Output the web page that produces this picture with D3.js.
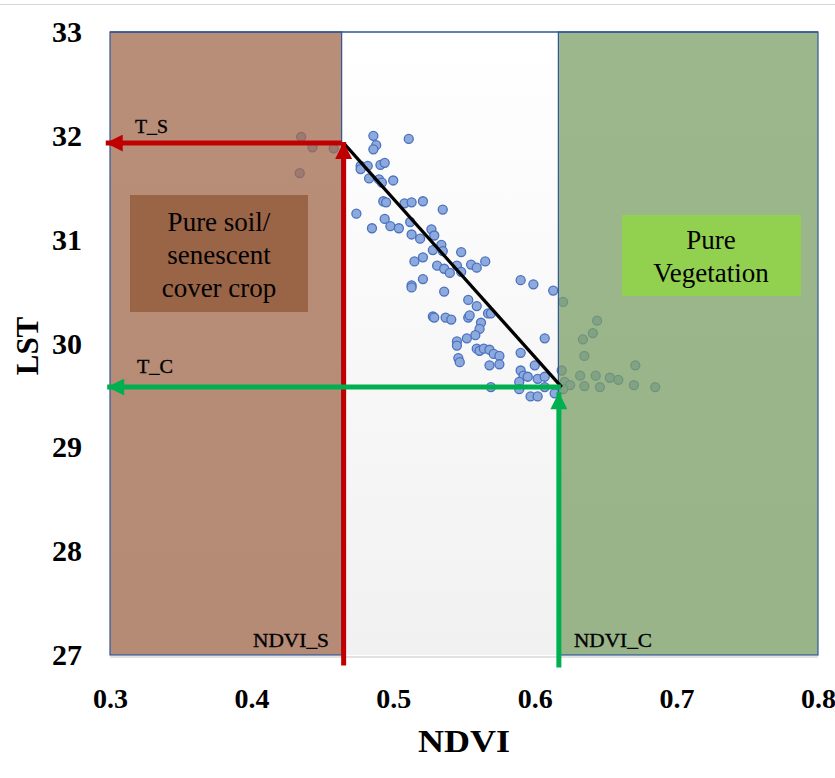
<!DOCTYPE html>
<html>
<head>
<meta charset="utf-8">
<script src="https://cdn.jsdelivr.net/npm/d3@7"></script>
<style>
  body { margin: 0; background: #fff; }
  svg { display: block; }
  .tick text { font-family: "Liberation Serif", serif; font-weight: bold; fill: #000; }
</style>
</head>
<body>
<div id="svg-container"></div>
<script>
// ---------------- data ----------------
const xTicks = [0.3, 0.4, 0.5, 0.6, 0.7, 0.8];
const yTicks = [27, 28, 29, 30, 31, 32, 33];

// end members
const ndviS = 0.465;
const ndviC = 0.617;
const tS = 31.93;
const tC = 29.58;

// [ndvi, lst]
const points = [
  [0.435, 31.99], [0.443, 31.89], [0.458, 31.88], [0.434, 31.64],
  [0.486, 32.00], [0.511, 31.97], [0.488, 31.91], [0.486, 31.87],
  [0.477, 31.71], [0.482, 31.71], [0.477, 31.68], [0.491, 31.72],
  [0.494, 31.74], [0.483, 31.59], [0.490, 31.58], [0.492, 31.55],
  [0.500, 31.57], [0.493, 31.37], [0.495, 31.36], [0.508, 31.35],
  [0.513, 31.36], [0.521, 31.37], [0.535, 31.29], [0.474, 31.25],
  [0.494, 31.20], [0.498, 31.13], [0.485, 31.11], [0.504, 31.11],
  [0.512, 31.17], [0.527, 31.10], [0.529, 31.04], [0.513, 31.05],
  [0.519, 31.01], [0.534, 30.95], [0.528, 30.90], [0.535, 30.89],
  [0.548, 30.88], [0.521, 30.83], [0.515, 30.79], [0.531, 30.75],
  [0.536, 30.72], [0.540, 30.68], [0.545, 30.75], [0.548, 30.69],
  [0.555, 30.76], [0.559, 30.73], [0.565, 30.79], [0.521, 30.62],
  [0.513, 30.56], [0.513, 30.54], [0.536, 30.50], [0.590, 30.61],
  [0.599, 30.57], [0.613, 30.51], [0.553, 30.42], [0.559, 30.36],
  [0.567, 30.29], [0.569, 30.29], [0.528, 30.26], [0.529, 30.25],
  [0.537, 30.25], [0.541, 30.23], [0.553, 30.25], [0.554, 30.27],
  [0.562, 30.20], [0.561, 30.14], [0.558, 30.08], [0.552, 30.05],
  [0.545, 30.02], [0.545, 29.98], [0.559, 29.95], [0.561, 29.93],
  [0.564, 29.95], [0.568, 29.94], [0.571, 29.90], [0.575, 29.88],
  [0.546, 29.86], [0.547, 29.82], [0.568, 29.79], [0.575, 29.80],
  [0.590, 29.91], [0.607, 30.05], [0.590, 29.74], [0.600, 29.79],
  [0.592, 29.69], [0.595, 29.68], [0.602, 29.66], [0.607, 29.68],
  [0.589, 29.63], [0.589, 29.56], [0.569, 29.58], [0.607, 29.58],
  [0.597, 29.49], [0.602, 29.49], [0.614, 29.52],
  [0.620, 30.40], [0.644, 30.22], [0.641, 30.10], [0.634, 30.04],
  [0.635, 29.88], [0.619, 29.74], [0.671, 29.79], [0.632, 29.69],
  [0.643, 29.69], [0.653, 29.67], [0.659, 29.65], [0.621, 29.63],
  [0.625, 29.60], [0.635, 29.59], [0.646, 29.58], [0.670, 29.60],
  [0.685, 29.58], [0.620, 29.56]
];

// ---------------- init ----------------
const width = 835;
const height = 778;
const margin = { top: 32, right: 17, bottom: 123, left: 110 };

const svg = d3.select("#svg-container").append("svg")
  .attr("width", width).attr("height", height);

const xScale = d3.scaleLinear().domain([0.3, 0.8]).range([margin.left, width - margin.right]);
const yScale = d3.scaleLinear().domain([27, 33]).range([height - margin.bottom, margin.top]);

const x0 = xScale(0.3), x1 = xScale(0.8), yTop = yScale(33), yBot = yScale(27);

// faint rule at the very top
svg.append("line")
  .attr("x1", 0).attr("x2", width).attr("y1", 4.5).attr("y2", 4.5)
  .attr("stroke", "#d6d6d6").attr("stroke-width", 1);

const defs = svg.append("defs");
const grad = defs.append("linearGradient").attr("id", "bg").attr("x1", 0).attr("x2", 0).attr("y1", 0).attr("y2", 1);
grad.append("stop").attr("offset", "0%").attr("stop-color", "#ffffff");
grad.append("stop").attr("offset", "100%").attr("stop-color", "#f1f1f1");

function arrowMarker(id, color) {
  defs.append("marker")
    .attr("id", id)
    .attr("markerUnits", "userSpaceOnUse")
    .attr("viewBox", "0 0 10 10")
    .attr("refX", 10).attr("refY", 5)
    .attr("markerWidth", 18).attr("markerHeight", 17)
    .attr("orient", "auto")
    .append("path")
    .attr("d", "M0,0 L10,5 L0,10 Z")
    .attr("fill", color);
}
arrowMarker("arrow-red", "#c00000");
arrowMarker("arrow-green", "#00b050");

// plot background
svg.append("rect")
  .attr("x", x0).attr("y", yTop)
  .attr("width", x1 - x0).attr("height", yBot - yTop)
  .attr("fill", "url(#bg)");

// points
svg.append("g")
  .selectAll("circle")
  .data(points)
  .enter()
  .append("circle")
  .attr("cx", (d) => xScale(d[0]))
  .attr("cy", (d) => yScale(d[1]))
  .attr("r", 4.5)
  .attr("fill", "#8eaadc")
  .attr("stroke", "#4a72c0")
  .attr("stroke-width", 1.3);

// zones (semi transparent so points show through)
svg.append("rect")
  .attr("x", x0).attr("y", yTop)
  .attr("width", xScale(ndviS) - 2 - x0).attr("height", yBot - yTop)
  .attr("fill", "#a26b4d").attr("fill-opacity", 0.76)
  .attr("stroke", "#2f5597").attr("stroke-width", 1.2);

svg.append("rect")
  .attr("x", xScale(ndviC) - 0.5).attr("y", yTop)
  .attr("width", x1 - xScale(ndviC) + 0.5).attr("height", yBot - yTop)
  .attr("fill", "#7c9f65").attr("fill-opacity", 0.75)
  .attr("stroke", "#2f5597").attr("stroke-width", 1.2);

// top border of the middle band
svg.append("line")
  .attr("x1", x0).attr("x2", x1).attr("y1", yTop).attr("y2", yTop)
  .attr("stroke", "#2f5597").attr("stroke-width", 1.5);
svg.append("line")
  .attr("x1", x0).attr("x2", x1).attr("y1", yBot + 2).attr("y2", yBot + 2)
  .attr("stroke", "#d9d9d9").attr("stroke-width", 1.5);

// zone labels
svg.append("rect")
  .attr("x", 130).attr("y", 195).attr("width", 178).attr("height", 117)
  .attr("fill", "#9a6446");
const soil = svg.append("text")
  .attr("x", 219).attr("y", 231)
  .attr("text-anchor", "middle")
  .style("font-family", "'Liberation Serif', serif")
  .style("font-size", "27px")
  .attr("fill", "#000");
["Pure soil/", "senescent", "cover crop"].forEach((t, i) => {
  soil.append("tspan").attr("x", 219).attr("dy", i === 0 ? 0 : 33).text(t);
});

svg.append("rect")
  .attr("x", 622).attr("y", 215).attr("width", 179).attr("height", 81)
  .attr("fill", "#92d050");
const veg = svg.append("text")
  .attr("x", 711).attr("y", 249)
  .attr("text-anchor", "middle")
  .style("font-family", "'Liberation Serif', serif")
  .style("font-size", "27px")
  .attr("fill", "#000");
["Pure", "Vegetation"].forEach((t, i) => {
  veg.append("tspan").attr("x", 711).attr("dy", i === 0 ? 0 : 33).text(t);
});

// black edge line
svg.append("line")
  .attr("x1", xScale(ndviS)).attr("y1", yScale(tS))
  .attr("x2", xScale(ndviC + 0.002)).attr("y2", yScale(tC))
  .attr("stroke", "#000").attr("stroke-width", 3.2);

// arrows
svg.append("line")
  .attr("x1", xScale(ndviS) - 2).attr("y1", yScale(tS))
  .attr("x2", xScale(0.297)).attr("y2", yScale(tS))
  .attr("stroke", "#c00000").attr("stroke-width", 5)
  .attr("marker-end", "url(#arrow-red)");
svg.append("line")
  .attr("x1", xScale(ndviS)).attr("y1", yScale(26.9))
  .attr("x2", xScale(ndviS)).attr("y2", yScale(tS) - 1)
  .attr("stroke", "#c00000").attr("stroke-width", 5)
  .attr("marker-end", "url(#arrow-red)");

svg.append("line")
  .attr("x1", xScale(ndviC) + 2).attr("y1", yScale(tC))
  .attr("x2", xScale(0.298)).attr("y2", yScale(tC))
  .attr("stroke", "#00b050").attr("stroke-width", 5)
  .attr("marker-end", "url(#arrow-green)");
svg.append("line")
  .attr("x1", xScale(ndviC)).attr("y1", yScale(26.88))
  .attr("x2", xScale(ndviC)).attr("y2", yScale(tC - 0.05))
  .attr("stroke", "#00b050").attr("stroke-width", 5)
  .attr("marker-end", "url(#arrow-green)");

// arrow labels
const annot = [
  { t: "T_S", x: 135, y: 133, w: 33 },
  { t: "T_C", x: 137, y: 373, w: 36 },
  { t: "NDVI_S", x: 253, y: 647, w: 76 },
  { t: "NDVI_C", x: 574, y: 647, w: 78 }
];
svg.selectAll(".annot")
  .data(annot)
  .enter()
  .append("text")
  .attr("class", "annot")
  .attr("x", (d) => d.x).attr("y", (d) => d.y)
  .attr("textLength", (d) => d.w)
  .attr("lengthAdjust", "spacingAndGlyphs")
  .text((d) => d.t)
  .style("font-family", "'Liberation Serif', serif")
  .style("font-size", "18px")
  .attr("stroke", "#000").attr("stroke-width", 0.3)
  .attr("fill", "#000");

// axes
const xAxis = d3.axisBottom(xScale).tickValues(xTicks).tickSize(0).tickPadding(33).tickFormat(d3.format(".1f"));
const yAxis = d3.axisLeft(yScale).tickValues(yTicks).tickSize(0).tickPadding(28).tickFormat(d3.format("d"));

svg.append("g")
  .attr("class", "x-axis")
  .attr("transform", `translate(0,${yBot})`)
  .call(xAxis)
  .call((g) => g.select(".domain").remove())
  .selectAll("text").style("font-size", "28px");

svg.append("g")
  .attr("class", "y-axis")
  .attr("transform", `translate(${x0},0)`)
  .call(yAxis)
  .call((g) => g.select(".domain").remove())
  .selectAll("text").style("font-size", "30px");

// units
svg.append("text")
  .attr("x", 418).attr("y", 752)
  .attr("textLength", 92)
  .attr("lengthAdjust", "spacingAndGlyphs")
  .style("font-family", "'Liberation Serif', serif")
  .style("font-weight", "bold")
  .style("font-size", "31px")
  .text("NDVI");

svg.append("text")
  .attr("transform", `translate(38, 346) rotate(-90)`)
  .attr("text-anchor", "middle")
  .style("font-family", "'Liberation Serif', serif")
  .style("font-weight", "bold")
  .style("font-size", "31px")
  .text("LST");
</script>
</body>
</html>
